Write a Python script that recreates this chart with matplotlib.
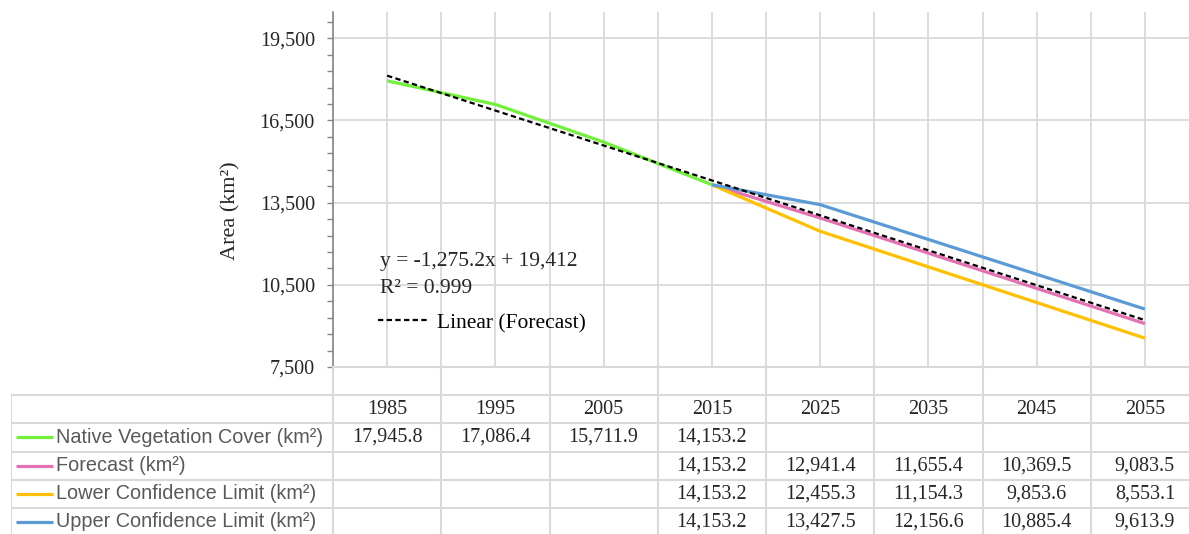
import numpy as np
import matplotlib.pyplot as plt
from matplotlib.ticker import FuncFormatter

years = [1985, 1995, 2005, 2015, 2025, 2035, 2045, 2055]
nan = np.nan
native = [17945.8, 17086.4, 15711.9, 14153.2, nan, nan, nan, nan]
forecast = [nan, nan, nan, 14153.2, 12941.4, 11655.4, 10369.5, 9083.5]
lower = [nan, nan, nan, 14153.2, 12455.3, 11154.3, 9853.6, 8553.1]
upper = [nan, nan, nan, 14153.2, 13427.5, 12156.6, 10885.4, 9613.9]

series_names = ["Native Vegetation Cover (km\u00b2)", "Forecast (km\u00b2)",
                "Lower Confidence Limit (km\u00b2)", "Upper Confidence Limit (km\u00b2)"]
series_colors = ["#72f03c", "#e472b2", "#ffc000", "#5b9bd5"]

# linear trendline of the forecast series (x = 1..8)
trend_slope = -1275.2
trend_intercept = 19412
trend_r2 = 0.999

y_min, y_max = 7500, 20460
y_major, y_minor = 3000, 600

SERIF = "Liberation Serif"
SANS = "Liberation Sans"
GRID = "#d9d9d9"

W, H = 1189, 534
fig = plt.figure(figsize=(W / 100, H / 100), dpi=100)

# plot area in pixels: x 333..1199, y 12..367
ax = fig.add_axes([333 / W, (H - 367) / H, 866 / W, 355 / H])
x = np.arange(len(years))
all_series = [native, forecast, lower, upper]
for vals, col in zip(all_series, series_colors):
    ax.plot(x, vals, color=col, lw=2.3, solid_capstyle="butt", zorder=3)

trend_x = np.arange(1, len(years) + 1)
trend_y = trend_slope * trend_x + trend_intercept
trend_line, = ax.plot(x, trend_y, color="black", lw=1.6, dashes=(2.4, 1.5), zorder=4)

ax.set_xlim(-0.5, len(years) - 0.5)
ax.set_ylim(y_min, y_max)
ax.set_xticks(np.arange(-0.5, len(years), 0.5))
ax.tick_params(axis="x", length=0, labelbottom=False)
ax.set_yticks(np.arange(y_min, y_max, y_major))
ax.set_yticks(np.arange(y_min, y_max, y_minor), minor=True)
ax.yaxis.set_major_formatter(FuncFormatter(lambda v, p: f"{v:,.0f}"))
ax.tick_params(axis="y", which="both", direction="out", length=4, width=1,
               color="#868686", pad=9, labelsize=14.5, labelcolor="#262626")
for lab in ax.get_yticklabels():
    lab.set_fontfamily(SERIF)
ax.grid(True, which="major", color=GRID, lw=1.3, zorder=0)
ax.set_axisbelow(True)
for s in ["top", "right"]:
    ax.spines[s].set_visible(False)
ax.spines["left"].set_color("#868686")
ax.spines["left"].set_linewidth(1.2)
ax.spines["bottom"].set_color(GRID)
ax.spines["bottom"].set_linewidth(1.5)

fig.text(231 / W, (H - 211) / H, "Area (km\u00b2)", rotation=90, ha="center",
         va="center", fontsize=16, family=SERIF, color="#262626")

# trendline label
ax.text(0.054, 0.296, f"y = {trend_slope:,.1f}x + {trend_intercept:,}", transform=ax.transAxes,
        fontsize=15.5, family=SERIF, va="center", ha="left", color="#262626")
ax.text(0.054, 0.22, f"R\u00b2 = {trend_r2}", transform=ax.transAxes,
        fontsize=15.5, family=SERIF, va="center", ha="left", color="#262626")
ax.legend([trend_line], ["Linear (Forecast)"], loc="center left",
          bbox_to_anchor=(0.052, 0.124), frameon=False, borderpad=0, borderaxespad=0,
          handlelength=2.3, handletextpad=0.45,
          prop={"family": SERIF, "size": 15.5})

# data table below the plot: pixels x 11..1199, y 367..536
px = 8 / 866
tx0 = -0.5 - (333 - 11) * px
tab = fig.add_axes([11 / W, (H - 536) / H, 1188 / W, 169 / H])
tab.set_xlim(tx0, len(years) - 0.5)
tab.set_ylim(6, 0)
tab.axis("off")

# grid lines of the table
for r in range(1, 7):
    tab.plot([tx0, len(years) - 0.5], [r, r], color=GRID, lw=1.5)
tab.plot([tx0, tx0], [1, 6], color=GRID, lw=1.5)
for b in np.arange(-0.5, len(years), 1.0):
    tab.plot([b, b], [0, 6], color=GRID, lw=1.5)

for i, yr in enumerate(years):
    tab.text(i, 1.5, str(yr), ha="center", va="center", fontsize=14.5,
             family=SERIF, color="#262626")

for r, (name, col, vals) in enumerate(zip(series_names, series_colors, all_series)):
    row = r + 2.5
    tab.plot([tx0 + 5 * px, tx0 + 42 * px], [row, row], color=col, lw=2.3,
             solid_capstyle="butt")
    tab.text(tx0 + 45 * px, row, name, ha="left", va="center", fontsize=14.3,
             family=SANS, color="#595959")
    for i, v in enumerate(vals):
        if not np.isnan(v):
            tab.text(i, row, f"{v:,.1f}", ha="center", va="center", fontsize=14.5,
                     family=SERIF, color="#262626")

fig.savefig("out.png", dpi=100)
